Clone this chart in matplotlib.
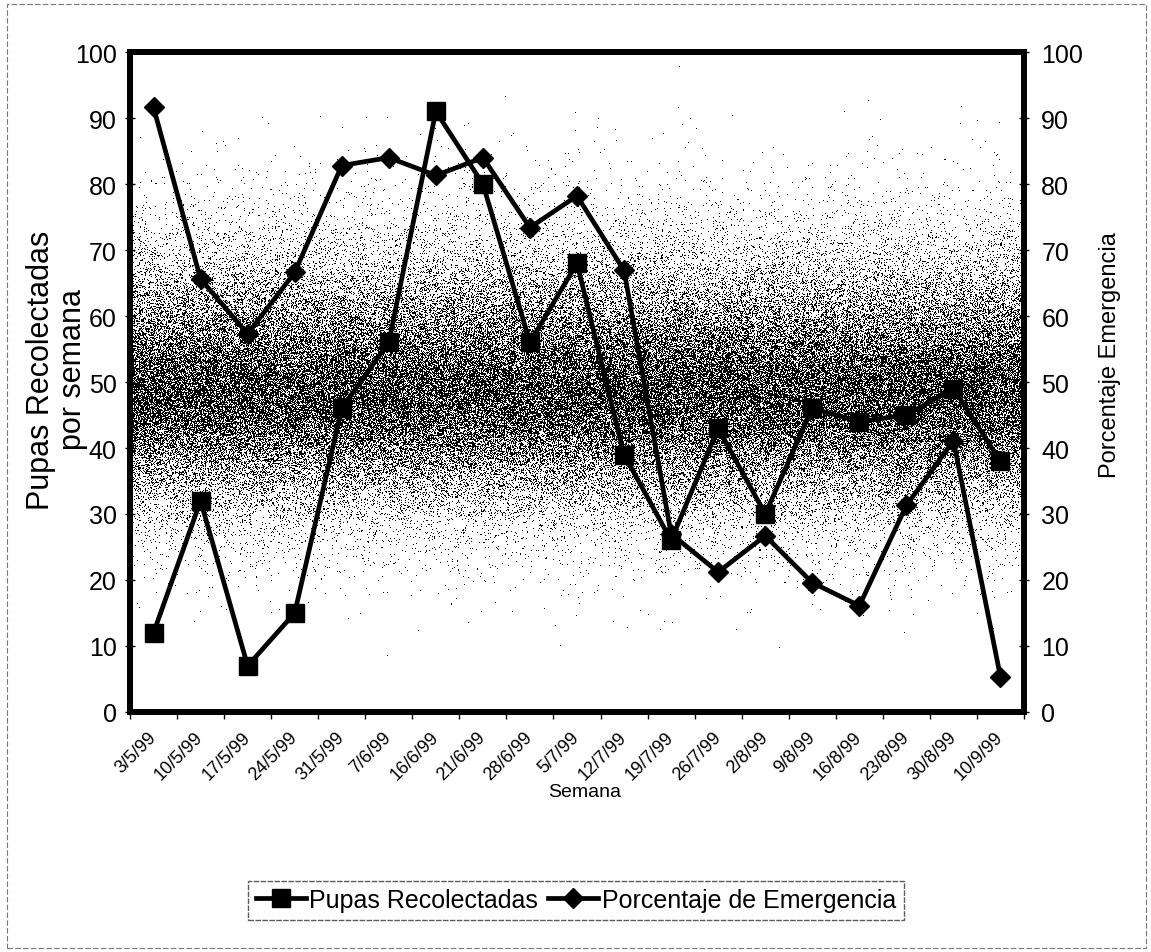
import numpy as np
import matplotlib
matplotlib.use("Agg")
import matplotlib.pyplot as plt
from matplotlib.patches import Rectangle
from matplotlib.ticker import FixedLocator

# Weekly sampling dates
semanas = ["3/5/99", "10/5/99", "17/5/99", "24/5/99", "31/5/99", "7/6/99",
           "16/6/99", "21/6/99", "28/6/99", "5/7/99", "12/7/99", "19/7/99",
           "26/7/99", "2/8/99", "9/8/99", "16/8/99", "23/8/99", "30/8/99",
           "10/9/99"]

# Pupae collected per week (left axis)
pupas = [12, 32, 7, 15, 46, 56, 91, 80, 56, 68, 39, 26, 43, 30, 46, 44, 45, 49, 38]

# Emergence percentage (right axis)
emergencia = [91.6, 65.6, 57.3, 66.6, 82.8, 84.0, 81.3, 84.0, 73.4, 78.2, 66.9,
              27.0, 21.2, 26.7, 19.6, 16.1, 31.3, 41.1, 5.3]

y_ticks = list(range(0, 101, 10))

FONT = ["Liberation Sans", "DejaVu Sans"]

W_PX, H_PX = 1151, 953
fig = plt.figure(figsize=(W_PX / 100, H_PX / 100), dpi=100)
fig.patch.set_facecolor("white")

left, right, top, bottom = 130, 1024, 53, 713
ax = fig.add_axes([left / W_PX, 1 - bottom / H_PX,
                   (right - left) / W_PX, (bottom - top) / H_PX])

x = np.arange(len(semanas))
xmin, xmax = -0.5, len(semanas) - 0.5

# Stippled grey band behind the plot area
rng = np.random.default_rng(11)
th, tw = bottom - top, right - left
level = np.linspace(100, 0, th)[:, None]
sig = np.where(level > 48, 16.0, 13.5)
dens = 0.72 * np.exp(-((level - 48) / sig) ** 2)
texture = (rng.random((th, tw)) > dens).astype(float)
ax.imshow(texture, cmap="gray", vmin=0, vmax=1, extent=[xmin, xmax, 0, 100],
          aspect="auto", interpolation="nearest", zorder=0)

line_pupas, = ax.plot(x, pupas, color="black", lw=3.4, marker="s", ms=13,
                      zorder=3, label="Pupas Recolectadas")
ax.set_xlim(xmin, xmax)
ax.set_ylim(0, 100)

ax2 = ax.twinx()
line_em, = ax2.plot(x, emergencia, color="black", lw=3.4, marker="D", ms=10.5,
                    zorder=3, label="Porcentaje de Emergencia")
ax2.set_ylim(0, 100)
ax2.set_xlim(xmin, xmax)

for a in (ax, ax2):
    for s in a.spines.values():
        s.set_linewidth(4.3)
        s.set_color("black")

ax.set_yticks(y_ticks)
ax2.set_yticks(y_ticks)
ax.set_yticklabels([str(t) for t in y_ticks], family=FONT, fontsize=18)
ax2.set_yticklabels([str(t) for t in y_ticks], family=FONT, fontsize=18)
ax.tick_params(axis="y", direction="inout", length=7, width=1, pad=6)
ax2.tick_params(axis="y", direction="inout", length=7, width=1, pad=9)

ax.set_xticks(x)
ax.set_xticklabels(semanas, family=FONT, fontsize=13, rotation=45,
                   ha="right", va="center", rotation_mode="anchor")
ax.tick_params(axis="x", which="major", length=0, pad=16)
ax.xaxis.set_minor_locator(FixedLocator(np.arange(xmin, xmax + 0.01, 1)))
ax.tick_params(axis="x", which="minor", direction="out", length=5, width=1)

fig.text(585 / W_PX, 1 - 793 / H_PX, "Semana", ha="center", va="center",
         family=FONT, fontsize=14)
fig.text(57 / W_PX, 1 - 370 / H_PX, "Pupas Recolectadas\npor semana",
         rotation=90, ha="center", va="center", multialignment="center",
         family=FONT, fontsize=22, linespacing=1.1)
fig.text(1110 / W_PX, 1 - 355 / H_PX, "Porcentaje Emergencia", rotation=90,
         ha="center", va="center", family=FONT, fontsize=17)

leg = fig.legend([line_pupas, line_em],
                 ["Pupas Recolectadas", "Porcentaje de Emergencia"],
                 loc="center", bbox_to_anchor=(576 / W_PX, 1 - 901 / H_PX),
                 ncol=2, frameon=True, fancybox=False, handlelength=2.0,
                 handletextpad=0.15, columnspacing=0.4, borderpad=0.3,
                 borderaxespad=0, prop={"family": FONT, "size": 18})
frame = leg.get_frame()
frame.set_edgecolor("#333333")
frame.set_linewidth(1.0)
frame.set_linestyle((0, (4, 1)))

fig.add_artist(Rectangle((7 / W_PX, 4 / H_PX), (1146 - 7) / W_PX,
                         (948 - 4) / H_PX, transform=fig.transFigure,
                         fill=False, ls=(0, (5, 2)), lw=0.8, ec="#777777"))

fig.savefig("out.png", dpi=100)
